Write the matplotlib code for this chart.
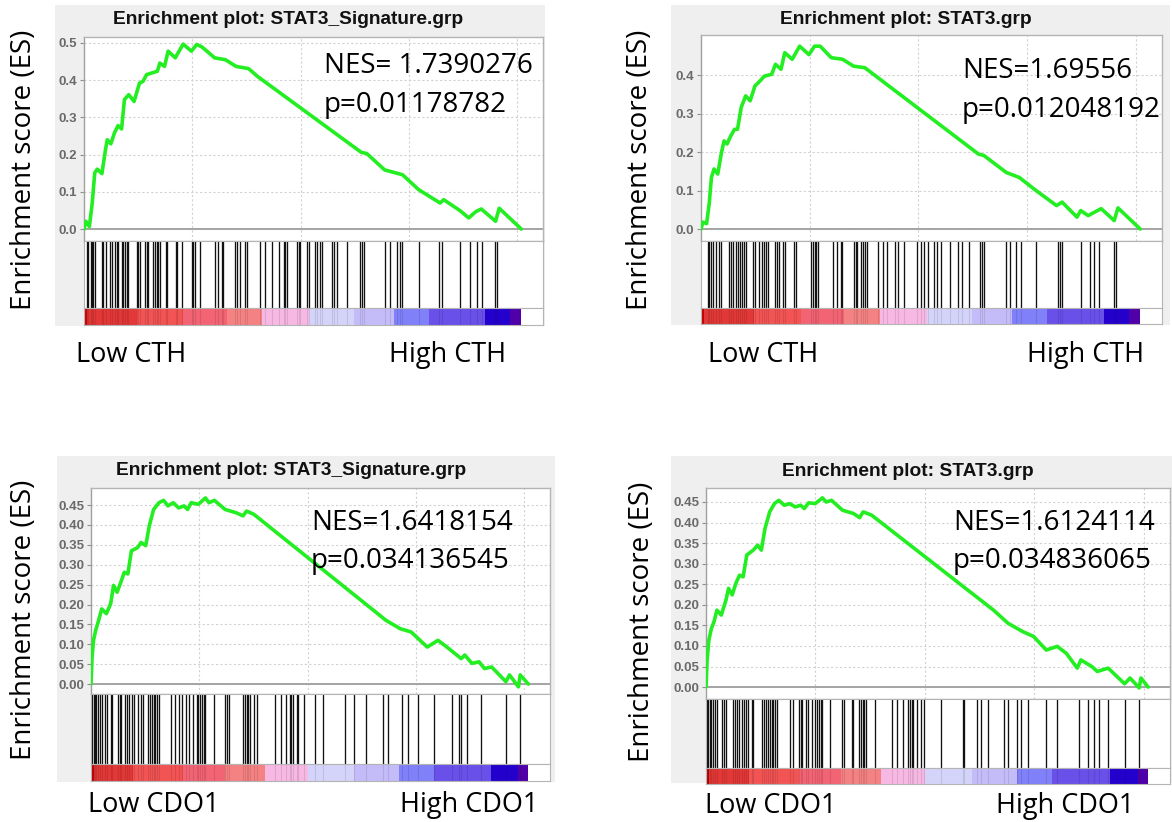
import matplotlib
matplotlib.use("Agg")
import matplotlib.pyplot as plt
from matplotlib.patches import Rectangle

# ---------------------------------------------------------------- data
N_GENES = 20200
X_MAX = 21200

TITLES = ["Enrichment plot: STAT3_Signature.grp", "Enrichment plot: STAT3.grp",
          "Enrichment plot: STAT3_Signature.grp", "Enrichment plot: STAT3.grp"]
NES_TEXT = ["NES= 1.7390276", "NES=1.69556", "NES=1.6418154", "NES=1.6124114"]
P_TEXT = ["p=0.01178782", "p=0.012048192", "p=0.034136545", "p=0.034836065"]
LOW_LABELS = ["Low CTH", "Low CTH", "Low CDO1", "Low CDO1"]
HIGH_LABELS = ["High CTH", "High CTH", "High CDO1", "High CDO1"]
Y_LABEL = "Enrichment score (ES)"

YTICKS_CTH_SIG = [0.0, 0.1, 0.2, 0.3, 0.4, 0.5]
YTICKS_CTH_STAT3 = [0.0, 0.1, 0.2, 0.3, 0.4]
YTICKS_CDO1 = [0.00, 0.05, 0.10, 0.15, 0.20, 0.25, 0.30, 0.35, 0.40, 0.45]

# running enrichment score: rank position, score
ES_RANK_1 = [0, 83, 248, 380, 496, 612, 827, 992, 1074, 1240, 1405, 1570, 1736, 1868, 2066,
             2314, 2562, 2727, 2893, 3389, 3504, 3719, 3885, 4215, 4579, 4959, 5207, 5455,
             6033, 6529, 7025, 7604, 8017, 12811, 13059, 13886, 14712, 15456, 16448, 16613,
             17357, 17770, 18101, 18349, 19010, 19176, 20200]
ES_SCORE_1 = [0.000, 0.021, 0.007, 0.070, 0.151, 0.161, 0.149, 0.213, 0.240, 0.229, 0.258,
              0.278, 0.269, 0.348, 0.361, 0.343, 0.392, 0.397, 0.415, 0.424, 0.446, 0.437,
              0.478, 0.460, 0.497, 0.478, 0.496, 0.489, 0.460, 0.455, 0.437, 0.431, 0.410,
              0.206, 0.203, 0.159, 0.146, 0.106, 0.070, 0.079, 0.050, 0.030, 0.047, 0.054,
              0.021, 0.056, 0.000]

ES_RANK_2 = [0, 86, 257, 377, 479, 599, 770, 942, 1061, 1198, 1370, 1541, 1678, 1849, 2054,
             2260, 2482, 2705, 2910, 3252, 3424, 3681, 3852, 4194, 4537, 4965, 5221, 5478,
             5992, 6506, 7019, 7533, 8046, 12754, 13011, 14038, 14638, 15408, 16349, 16606,
             17291, 17462, 17804, 18403, 19002, 19174, 20200]
ES_SCORE_2 = [0.000, 0.018, 0.014, 0.066, 0.134, 0.156, 0.143, 0.199, 0.229, 0.221, 0.242,
              0.259, 0.259, 0.316, 0.346, 0.333, 0.372, 0.384, 0.397, 0.402, 0.428, 0.415,
              0.458, 0.441, 0.475, 0.453, 0.475, 0.475, 0.445, 0.441, 0.423, 0.419, 0.397,
              0.195, 0.191, 0.147, 0.134, 0.100, 0.061, 0.070, 0.031, 0.048, 0.035, 0.053,
              0.022, 0.055, 0.000]

ES_RANK_3 = [0, 50, 116, 215, 330, 496, 710, 909, 1041, 1206, 1404, 1536, 1702, 1867, 2148,
             2313, 2528, 2693, 2891, 3139, 3354, 3552, 3800, 4047, 4295, 4460, 4626, 4956,
             5286, 5452, 5700, 6195, 6691, 7021, 7187, 7517, 12968, 13629, 14290, 14786,
             15529, 16025, 16438, 17099, 17264, 17594, 17925, 18173, 18503, 19164, 19329,
             19741, 19824, 20200]
ES_SCORE_3 = [0.000, 0.068, 0.110, 0.135, 0.156, 0.189, 0.177, 0.202, 0.248, 0.231, 0.260,
              0.281, 0.277, 0.335, 0.343, 0.356, 0.348, 0.398, 0.439, 0.456, 0.462, 0.448,
              0.456, 0.443, 0.448, 0.439, 0.456, 0.452, 0.468, 0.456, 0.462, 0.439, 0.431,
              0.423, 0.435, 0.427, 0.189, 0.160, 0.139, 0.131, 0.093, 0.110, 0.093, 0.064,
              0.073, 0.052, 0.056, 0.039, 0.043, 0.006, 0.023, -0.007, 0.023, 0.000]

ES_RANK_4 = [0, 50, 133, 249, 366, 499, 698, 915, 1031, 1197, 1364, 1530, 1696, 1863, 2162,
             2361, 2528, 2694, 2910, 3127, 3326, 3575, 3825, 4074, 4324, 4490, 4690, 4989,
             5322, 5488, 5737, 6236, 6735, 7018, 7184, 7567, 13138, 13803, 14468, 14967,
             15549, 16048, 16464, 16963, 17129, 17628, 17878, 18377, 19125, 19374, 19790,
             19873, 20200]
ES_SCORE_4 = [0.000, 0.066, 0.115, 0.143, 0.159, 0.187, 0.175, 0.212, 0.240, 0.224, 0.252,
              0.272, 0.268, 0.321, 0.333, 0.345, 0.333, 0.385, 0.426, 0.446, 0.454, 0.442,
              0.446, 0.438, 0.442, 0.434, 0.448, 0.446, 0.460, 0.450, 0.454, 0.430, 0.422,
              0.412, 0.426, 0.418, 0.187, 0.155, 0.135, 0.123, 0.090, 0.099, 0.082, 0.046,
              0.066, 0.050, 0.038, 0.046, 0.008, 0.022, -0.002, 0.022, 0.000]

# gene-set member positions in the ranked list
HITS_1 = [123, 200, 308, 385, 431, 509, 817, 894, 1002, 1202, 1279, 1433, 1510, 1587, 1741,
          1818, 1895, 1972, 2050, 2435, 2512, 2589, 2820, 2897, 2974, 3205, 3282, 3359, 3436,
          3513, 3791, 3853, 4253, 4315, 4515, 4977, 5054, 5132, 5363, 6056, 6210, 6364, 6441,
          6981, 7058, 7212, 7443, 7520, 8137, 8368, 8676, 8984, 9215, 9292, 9369, 9832, 9909,
          9986, 10294, 10371, 10679, 10756, 10910, 10987, 11449, 11526, 11681, 12143, 12759,
          12836, 12914, 13915, 14146, 14455, 14609, 14686, 15456, 16380, 16535, 17382, 17845,
          18153, 18384, 18999, 19076]
HITS_2 = [308, 377, 479, 565, 685, 822, 942, 1284, 1370, 1455, 1626, 1712, 1798, 1883, 1969,
          2054, 2397, 2482, 2654, 2825, 2910, 2996, 3082, 3424, 3510, 3595, 3766, 3852, 4280,
          4366, 5050, 5136, 5222, 5307, 5393, 6078, 6249, 6420, 6506, 7019, 7105, 7190, 7362,
          7447, 7533, 7618, 8132, 8389, 8560, 8902, 9074, 9330, 9930, 10101, 10272, 10443,
          10700, 10871, 11042, 11470, 11813, 11984, 12326, 12840, 12926, 13011, 14038, 14210,
          14466, 14723, 15408, 16435, 16521, 16606, 17462, 17890, 18062, 18318, 19003, 19089]
HITS_3 = [50, 116, 182, 248, 330, 413, 496, 661, 743, 909, 991, 1239, 1322, 1404, 1569, 1652,
          1735, 1900, 1982, 2148, 2313, 2395, 2643, 2726, 2808, 2891, 2974, 3056, 3139, 3717,
          3882, 4047, 4213, 4378, 4543, 4708, 4873, 4956, 5039, 5121, 5204, 5286, 5699, 6195,
          6278, 6360, 7021, 7104, 7186, 7269, 7351, 7517, 7682, 8508, 8756, 9003, 9169, 9251,
          9334, 9499, 9582, 9829, 10325, 10738, 11729, 12142, 12720, 13464, 13712, 14372,
          14620, 15116, 15859, 16685, 17016, 17098, 17346, 18007, 19163, 19824]
HITS_4 = [33, 100, 166, 249, 333, 416, 499, 748, 832, 915, 1247, 1330, 1414, 1497, 1663, 1746,
          1829, 1912, 2079, 2162, 2578, 2661, 2744, 2827, 2910, 2993, 3077, 3160, 3243, 3825,
          3991, 4241, 4324, 4407, 4573, 4656, 4823, 4989, 5072, 5155, 5238, 5322, 5654, 6236,
          6319, 6652, 6735, 6985, 7068, 7151, 7234, 7317, 7733, 8481, 8731, 8980, 9230, 9313,
          9396, 9479, 9645, 9812, 9978, 10726, 11724, 11807, 12389, 12556, 12888, 13637, 13803,
          14219, 14385, 14718, 15549, 16048, 17046, 17462, 17711, 17960, 18377, 19125, 19790]

# ranked-list metric colour strip: segment edges (rank) and colours
CB_EDGES_CTH = [0, 123, 2435, 4592, 6595, 8214, 10371, 12451, 14300, 15918, 18538, 19694, 20200]
CB_EDGES_CDO1 = [0, 140, 1950, 4270, 6175, 8014, 10003, 12141, 14213, 15829, 18480, 19723, 20200]
CB_COLORS = ['#c80000', '#e23838', '#f25454', '#f26474', '#f48282', '#f8b8e4',
             '#d4d4fa', '#c4bcf8', '#8080f8', '#6850e8', '#2400cc', '#5000a8']

# ---------------------------------------------------------------- layout (pixels)
W, H = 1172, 822
PANELS = [
    dict(bg=(55, 5, 545, 326), px=(84, 543), es=(37, 241), hits=(241, 308), cb=(308, 325),
         ylim=(-0.032, 0.516), title=(288, 19), nes=(324, 73), p=112, low=(76, 355),
         high=(389, 355), ylab=(24, 170)),
    dict(bg=(671, 5, 1170, 325), px=(701, 1162), es=(35, 241), hits=(241, 308), cb=(308, 324),
         ylim=(-0.031, 0.504), title=(906, 19), nes=(962, 78), p=117, low=(708, 355),
         high=(1027, 355), ylab=(640, 170)),
    dict(bg=(57, 456, 555, 782), px=(91, 550), es=(488, 694), hits=(694, 764), cb=(764, 781),
         ylim=(-0.025, 0.493), title=(291, 470), nes=(311, 530), p=568, low=(88, 805),
         high=(400, 805), ylab=(24, 620)),
    dict(bg=(671, 456, 1172, 783), px=(706, 1170), es=(488, 699), hits=(699, 768), cb=(768, 784),
         ylim=(-0.029, 0.484), title=(908, 471), nes=(953, 530), p=568, low=(705, 806),
         high=(996, 806), ylab=(642, 622)),
]

ES_RANKS = [ES_RANK_1, ES_RANK_2, ES_RANK_3, ES_RANK_4]
ES_SCORES = [ES_SCORE_1, ES_SCORE_2, ES_SCORE_3, ES_SCORE_4]
HITS = [HITS_1, HITS_2, HITS_3, HITS_4]
CB_EDGES = [CB_EDGES_CTH, CB_EDGES_CTH, CB_EDGES_CDO1, CB_EDGES_CDO1]
YTICKS = [YTICKS_CTH_SIG, YTICKS_CTH_STAT3, YTICKS_CDO1, YTICKS_CDO1]
YFMT = ["{:.1f}", "{:.1f}", "{:.2f}", "{:.2f}"]

BIG_FONT = "Open Sans"
SMALL_FONT = "Liberation Sans"
FRAME = "#b4b4b4"

fig = plt.figure(figsize=(W / 100, H / 100), dpi=100)
fig.patch.set_facecolor("white")


def rect(x0, y0, x1, y1):
    return [x0 / W, 1 - y1 / H, (x1 - x0) / W, (y1 - y0) / H]


def fx(x):
    return x / W


def fy(y):
    return 1 - y / H


for i, lay in enumerate(PANELS):
    bx0, by0, bx1, by1 = lay["bg"]
    fig.add_artist(Rectangle((fx(bx0), fy(by1)), (bx1 - bx0) / W, (by1 - by0) / H,
                             transform=fig.transFigure, facecolor="#efefef",
                             edgecolor="none", zorder=-10))
    x0, x1 = lay["px"]

    # running enrichment score
    ax = fig.add_axes(rect(x0, lay["es"][0], x1, lay["es"][1]))
    ax.set_facecolor("white")
    ax.set_xlim(0, X_MAX)
    ax.set_ylim(*lay["ylim"])
    ax.set_yticks(YTICKS[i])
    ax.set_yticklabels([YFMT[i].format(v) for v in YTICKS[i]])
    ax.set_xticks([5000, 10000, 15000, 20000])
    ax.tick_params(axis="x", length=0, labelbottom=False)
    ax.tick_params(axis="y", length=3, width=0.8, color="#909090", pad=2,
                   labelsize=9.5, labelcolor="#6a6a6a")
    for lab in ax.get_yticklabels():
        lab.set_fontfamily(SMALL_FONT)
        lab.set_fontweight("bold")
    ax.grid(True, color="#d2d2d2", linestyle=(0, (2, 2)), linewidth=0.8)
    ax.set_axisbelow(True)
    for s in ax.spines.values():
        s.set_color(FRAME)
        s.set_linewidth(1.0)
    ax.spines["left"].set_color("#a0a0a0")
    ax.axhline(0, color="#a4a4a4", linewidth=1.4, zorder=1)
    ax.plot(ES_RANKS[i], ES_SCORES[i], color="#22ee22", linewidth=2.6,
            solid_joinstyle="round", solid_capstyle="round", zorder=3)

    # hit positions
    axh = fig.add_axes(rect(x0, lay["hits"][0], x1, lay["hits"][1]))
    axh.set_xlim(0, X_MAX)
    axh.set_ylim(0, 1)
    axh.vlines(HITS[i], 0, 1, color="#111111", linewidth=0.95)
    axh.set_xticks([])
    axh.set_yticks([])
    for s in axh.spines.values():
        s.set_color(FRAME)

    # ranked-list colour strip, with the gene-set positions showing faintly through
    axc = fig.add_axes(rect(x0, lay["cb"][0], x1, lay["cb"][1]))
    axc.set_xlim(0, X_MAX)
    axc.set_ylim(0, 1)
    edges = CB_EDGES[i]
    for k, col in enumerate(CB_COLORS):
        axc.axvspan(edges[k], edges[k + 1], color=col, linewidth=0)
    axc.vlines(HITS[i], 0, 1, color="black", linewidth=0.8, alpha=0.1)
    axc.set_xticks([])
    axc.set_yticks([])
    for s in axc.spines.values():
        s.set_color(FRAME)

    # titles and annotations
    fig.text(fx(lay["title"][0]), fy(lay["title"][1]), TITLES[i], ha="center", va="center",
             fontsize=13.8, fontweight="bold", family=SMALL_FONT, color="#111111")
    fig.text(fx(lay["nes"][0]), fy(lay["nes"][1]), NES_TEXT[i], ha="left", va="baseline",
             fontsize=20, family=BIG_FONT, color="black")
    fig.text(fx(lay["nes"][0]), fy(lay["p"]), P_TEXT[i], ha="left", va="baseline",
             fontsize=20, family=BIG_FONT, color="black")
    fig.text(fx(lay["low"][0]), fy(lay["low"][1]), LOW_LABELS[i], ha="left", va="center",
             fontsize=19.5, family=BIG_FONT, color="black")
    fig.text(fx(lay["high"][0]), fy(lay["high"][1]), HIGH_LABELS[i], ha="left", va="center",
             fontsize=19.5, family=BIG_FONT, color="black")
    fig.text(fx(lay["ylab"][0]), fy(lay["ylab"][1]), Y_LABEL, ha="center", va="center",
             rotation=90, fontsize=20, family=BIG_FONT, color="black")

fig.savefig("out.png", dpi=100, facecolor="white")
